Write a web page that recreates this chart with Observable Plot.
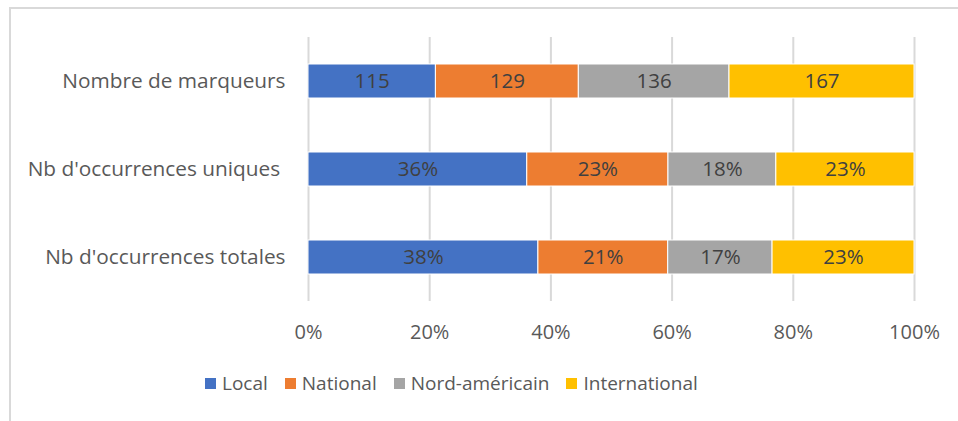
<!DOCTYPE html>
<html><head><meta charset="utf-8">
<script src="https://cdn.jsdelivr.net/npm/d3@7"></script>
<script src="https://cdn.jsdelivr.net/npm/@observablehq/plot@0.6"></script>
<style>
body{margin:0;background:#fff;font-family:"Open Sans",sans-serif;}
#wrap{position:relative;width:958px;height:421px;overflow:hidden;}
#frame{position:absolute;left:9px;top:7px;width:980px;height:440px;border-top:2px solid #d9d9d9;border-left:2px solid #d9d9d9;box-sizing:border-box;}
#chart{position:absolute;left:0;top:0;}
#legend{position:absolute;left:205px;top:370px;display:flex;align-items:center;font-size:19px;color:#595959;white-space:nowrap;}
#legend .item{display:flex;align-items:center;margin-right:17px;}
#legend .sw{width:11px;height:11px;margin-right:6px;}
</style></head>
<body>
<div id="wrap"><div id="frame"></div><div id="chart"></div><div id="legend"></div></div>
<script>
const rows = ["Nombre de marqueurs", "Nb d'occurrences uniques\u00a0", "Nb d'occurrences totales"];
const categories = ["Local", "National", "Nord-américain", "International"];
const colors = ["#4472C4", "#ED7D31", "#A5A5A5", "#FFC000"];
const marqueurs = [115, 129, 136, 167];
const uniques = [36.1, 23.3, 17.8, 22.8];
const totales = [37.9, 21.4, 17.2, 23.4];
const xTicks = [0, 0.2, 0.4, 0.6, 0.8, 1];

const data = [];
categories.forEach((c, i) => data.push({row: rows[0], cat: c, value: marqueurs[i], label: String(marqueurs[i])}));
categories.forEach((c, i) => data.push({row: rows[1], cat: c, value: uniques[i], label: Math.round(uniques[i]) + "%"}));
categories.forEach((c, i) => data.push({row: rows[2], cat: c, value: totales[i], label: Math.round(totales[i]) + "%"}));

const chart = Plot.plot({
  width: 958, height: 355,
  marginLeft: 308, marginRight: 44, marginTop: 37, marginBottom: 54,
  style: {fontSize: "20px", fontFamily: "'Open Sans', sans-serif", color: "#595959", background: "transparent"},
  x: {domain: [0, 1], label: null},
  y: {domain: rows, label: null, paddingInner: 0.614, paddingOuter: 0.307},
  color: {domain: categories, range: colors},
  marks: [
    Plot.gridX(xTicks, {stroke: "#d9d9d9", strokeOpacity: 1, strokeWidth: 2}),
    Plot.axisX(xTicks, {tickFormat: d => Math.round(d * 100) + "%", tickSize: 0, tickPadding: 23, fontSize: 20, label: null}),
    Plot.axisY({tickSize: 0, tickPadding: 23, fontSize: 20.8, label: null}),
    Plot.barX(data, Plot.stackX({x: "value", y: "row", fill: "cat", offset: "normalize", stroke: "white", strokeWidth: 1})),
    Plot.text(data, Plot.stackX({x: "value", y: "row", z: "cat", offset: "normalize", text: "label", fill: "#404040", fontSize: 20.5}))
  ]
});
document.getElementById("chart").appendChild(chart);

const lg = document.getElementById("legend");
categories.forEach((c, i) => {
  const it = document.createElement("div"); it.className = "item";
  const sw = document.createElement("div"); sw.className = "sw"; sw.style.background = colors[i];
  const tx = document.createElement("span"); tx.textContent = c;
  it.appendChild(sw); it.appendChild(tx); lg.appendChild(it);
});
</script>
</body></html>
